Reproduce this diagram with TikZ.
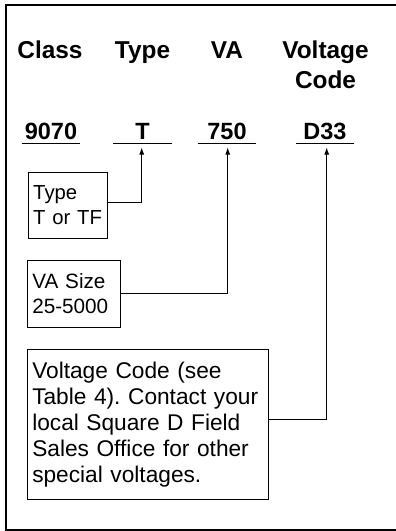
\documentclass[tikz,border=0pt]{standalone}
\usepackage{fontspec}
\setmainfont{Liberation Sans}
\usetikzlibrary{arrows.meta}
\begin{document}
\frenchspacing
\begin{tikzpicture}[x=1pt,y=-1pt,
  hdr/.style={font=\bfseries\fontsize{24.4}{30}\selectfont, inner sep=0pt, anchor=base, align=center},
  val/.style={font=\bfseries\fontsize{23.5}{28}\selectfont, inner sep=0pt, anchor=base, minimum width=58pt},
  uline/.style={line width=1.4pt},
  note/.style={draw, line width=0.9pt, anchor=north west, align=left, inner xsep=4.5pt, inner ysep=0pt},
  conn/.style={line width=0.9pt},
  arr/.style={line width=0.9pt, -{Latex[length=7pt,width=5pt]}}]
\useasboundingbox (0,0) rectangle (396,531);
% frame
\draw[line width=2pt] (396,5) -- (6,5) -- (6,530) -- (396,530);
% headers
\node[hdr] (hClass) at (50,58) {Class};
\node[hdr] (hType) at (142.5,58) {Type};
\node[hdr] (hVA) at (227,58) {VA};
\node[hdr] (hVolt) at (325.5,88.5) {Voltage\\Code};
% values
\node[val] (v1) at (51,139) {9070};
\node[val] (v2) at (142.5,139) {T};
\node[val] (v3) at (227,139) {750};
\node[val] (v4) at (325,139) {D33};
\foreach \v in {v1,v2,v3,v4}
  \draw[uline] ([yshift=-4.7pt]\v.base west) -- ([yshift=-4.7pt]\v.base east);
% arrow tips
\coordinate (t2) at (141.7,147.5);
\coordinate (t3) at (227.7,147.5);
\coordinate (t4) at (326.7,147.5);
% notes
\node[note, minimum width=78.4pt, minimum height=66.6pt, text width=69.4pt,
  font=\fontsize{20.3}{25}\selectfont] (b1) at (28.3,171.7) {Type\\T or TF};
\node[note, minimum width=92.7pt, minimum height=66.7pt, text width=83.7pt,
  font=\fontsize{20.7}{25.5}\selectfont] (b2) at (27.3,260) {VA Size\\25-5000};
\node[note, minimum width=241pt, minimum height=149.7pt, text width=232pt,
  font=\fontsize{22.7}{25.8}\selectfont] (b3) at (27.3,349.3) {Voltage Code (see\\Table 4). Contact your\\local Square D Field\\Sales Office for other\\special voltages.};
% connectors
\draw[arr] ([yshift=3.3pt]b1.east) -| (t2);
\draw[arr] (b2.east) -| (t3);
\draw[arr] ([yshift=5pt]b3.east) -| (t4);
\end{tikzpicture}
\end{document}
